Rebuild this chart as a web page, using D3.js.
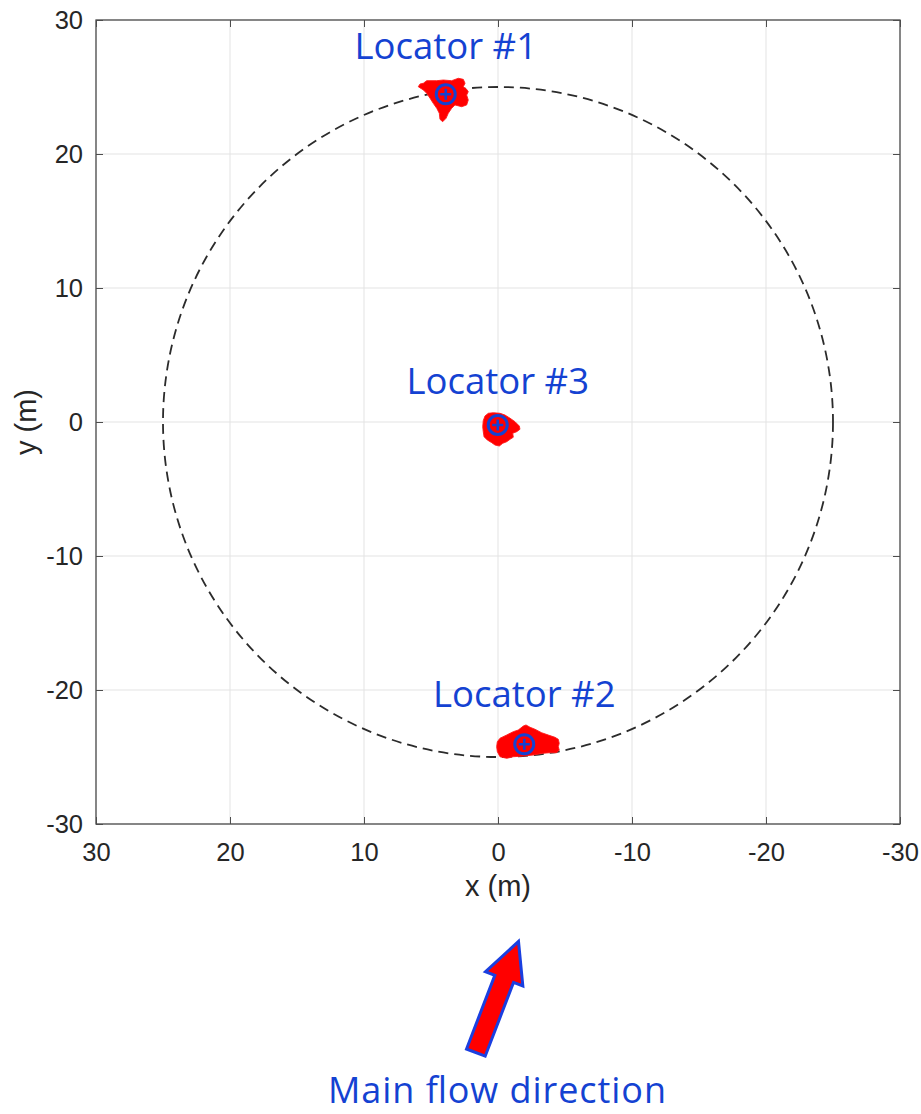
<!DOCTYPE html>
<html>
<head>
<meta charset="utf-8">
<script src="https://cdn.jsdelivr.net/npm/d3@7"></script>
<style>
  html, body { margin: 0; padding: 0; background: #fff; }
  svg { display: block; }
</style>
</head>
<body>
<svg id="chart" width="921" height="1114"></svg>
<script>
// Axis ticks (metres)
const xTicks = [30, 20, 10, 0, -10, -20, -30];
const yTicks = [30, 20, 10, 0, -10, -20, -30];

// Nominal deployment circle radius (m)
const circleRadius = 25;

// Estimated locator positions (m)
const locatorNames = ["Locator #1", "Locator #2", "Locator #3"];
const locatorX = [3.90, -1.96, 0.02];
const locatorY = [24.46, -24.05, -0.22];

// Outline of each position-estimate cloud (x, y in m)
const cloud1 = [
  [5.57, 25.28], [5.32, 25.47], [4.57, 25.47], [4.08, 25.52], [3.46, 25.47],
  [2.96, 25.65], [2.59, 25.57], [2.46, 25.28], [2.59, 25.02], [2.34, 24.83],
  [2.22, 24.65], [2.34, 24.40], [2.22, 24.03], [2.34, 23.66], [2.71, 23.53],
  [3.21, 23.66], [3.46, 23.41], [3.71, 23.04], [3.88, 22.66], [4.13, 22.41],
  [4.33, 22.59], [4.38, 23.04], [4.57, 23.41], [4.83, 23.78], [5.07, 24.16],
  [5.32, 24.53], [5.57, 24.78], [5.95, 25.02], [5.82, 25.22]
];
const cloud2 = [
  [0.05, -23.86], [-0.15, -23.60], [-0.65, -23.36], [-1.14, -23.11], [-1.51, -22.99],
  [-1.89, -22.69], [-2.09, -22.61], [-2.39, -22.78], [-2.76, -22.93], [-3.26, -23.19],
  [-3.75, -23.36], [-4.25, -23.53], [-4.50, -23.68], [-4.57, -23.98], [-4.50, -24.23],
  [-4.57, -24.48], [-4.38, -24.68], [-3.88, -24.68], [-3.38, -24.72], [-2.63, -24.85],
  [-1.89, -24.93], [-1.14, -24.98], [-0.65, -25.10], [-0.15, -24.98], [0.05, -24.60],
  [0.10, -24.23]
];
const cloud3 = [
  [0.97, 0.45], [0.72, 0.65], [0.35, 0.69], [-0.15, 0.65], [-0.52, 0.52],
  [-0.90, 0.28], [-1.27, 0.02], [-1.59, -0.30], [-1.64, -0.54], [-1.40, -0.72],
  [-1.10, -0.84], [-1.14, -1.14], [-0.90, -1.29], [-0.65, -1.47], [-0.35, -1.59],
  [-0.10, -1.79], [0.22, -1.72], [0.47, -1.54], [0.80, -1.34], [1.04, -1.10],
  [1.10, -0.72], [1.14, -0.35], [1.10, 0.10]
];
const clouds = [cloud1, cloud2, cloud3];

const svg = d3.select("#chart");
const plotLeft = 96, plotRight = 900, plotTop = 20, plotBottom = 824;

const x = d3.scaleLinear().domain([30, -30]).range([plotLeft, plotRight]);
const y = d3.scaleLinear().domain([30, -30]).range([plotTop, plotBottom]);

const axisColor = "#4d4d4d";
const textColor = "#262626";
const blue = "#1442d2";
const fontAxis = "'Liberation Sans', Arial, sans-serif";
const fontNote = "'Open Sans', 'Noto Sans', sans-serif";
const plainNumber = d => String(d);   // hyphen-minus, as in the printed labels

// Grid
const grid = svg.append("g");
grid.selectAll("line.gx").data(xTicks).join("line")
  .attr("x1", d => x(d)).attr("x2", d => x(d))
  .attr("y1", plotTop).attr("y2", plotBottom)
  .attr("stroke", "#e3e3e3").attr("stroke-width", 1);
grid.selectAll("line.gy").data(yTicks).join("line")
  .attr("y1", d => y(d)).attr("y2", d => y(d))
  .attr("x1", plotLeft).attr("x2", plotRight)
  .attr("stroke", "#e3e3e3").attr("stroke-width", 1);

// Axes with inward ticks on all four sides
function styleAxis(g) {
  g.select(".domain").remove();
  g.selectAll(".tick line").attr("stroke", axisColor);
  g.selectAll(".tick text").attr("fill", textColor)
    .style("font-family", fontAxis).style("font-size", "25.5px");
}
svg.append("g").attr("transform", `translate(0,${plotBottom})`)
  .call(d3.axisBottom(x).tickValues(xTicks).tickFormat(plainNumber)
    .tickSizeInner(-7).tickSizeOuter(0).tickPadding(19))
  .call(styleAxis);
svg.append("g").attr("transform", `translate(0,${plotTop})`)
  .call(d3.axisTop(x).tickValues(xTicks).tickFormat("")
    .tickSizeInner(-7).tickSizeOuter(0))
  .call(styleAxis);
svg.append("g").attr("transform", `translate(${plotLeft},0)`)
  .call(d3.axisLeft(y).tickValues(yTicks).tickFormat(plainNumber)
    .tickSizeInner(-7).tickSizeOuter(0).tickPadding(13))
  .call(styleAxis);
svg.append("g").attr("transform", `translate(${plotRight},0)`)
  .call(d3.axisRight(y).tickValues(yTicks).tickFormat("")
    .tickSizeInner(-7).tickSizeOuter(0))
  .call(styleAxis);

// Box
svg.append("rect")
  .attr("x", plotLeft).attr("y", plotTop)
  .attr("width", plotRight - plotLeft).attr("height", plotBottom - plotTop)
  .attr("fill", "none").attr("stroke", axisColor).attr("stroke-width", 1.3);

// Axis labels
svg.append("text")
  .attr("x", x(0)).attr("y", 896)
  .attr("text-anchor", "middle")
  .attr("fill", textColor)
  .style("font-family", fontAxis).style("font-size", "29px")
  .text("x (m)");
svg.append("text")
  .attr("transform", `translate(36,${y(0)}) rotate(-90)`)
  .attr("text-anchor", "middle")
  .attr("fill", textColor)
  .style("font-family", fontAxis).style("font-size", "29px")
  .text("y (m)");

// Nominal circle
svg.append("ellipse")
  .attr("cx", x(0)).attr("cy", y(0))
  .attr("rx", Math.abs(x(circleRadius) - x(0)))
  .attr("ry", Math.abs(y(circleRadius) - y(0)))
  .attr("fill", "none")
  .attr("stroke", "#2b2b2b").attr("stroke-width", 1.8)
  .attr("stroke-dasharray", "10,6");

// Position-estimate clouds
const outline = d3.line().x(d => x(d[0])).y(d => y(d[1])).curve(d3.curveLinearClosed);
svg.append("g").selectAll("path").data(clouds).join("path")
  .attr("d", outline)
  .attr("fill", "#ff0000")
  .attr("stroke", "#ff1a1a").attr("stroke-width", 0.9)
  .attr("stroke-linejoin", "miter");

// Locator markers (circle with plus)
const markers = svg.append("g").selectAll("g").data(locatorNames).join("g")
  .attr("transform", (d, i) => `translate(${x(locatorX[i])},${y(locatorY[i])})`);
markers.append("circle").attr("r", 9.5)
  .attr("fill", "none").attr("stroke", blue).attr("stroke-width", 3);
markers.append("path").attr("d", "M-5.5,0H5.5M0,-5.5V5.5")
  .attr("stroke", blue).attr("stroke-width", 2.6);

// Locator labels
const labelOffsetY = [-35, -37, -31];
svg.append("g").selectAll("text").data(locatorNames).join("text")
  .attr("x", (d, i) => x(locatorX[i]))
  .attr("y", (d, i) => y(locatorY[i]) + labelOffsetY[i])
  .attr("text-anchor", "middle")
  .attr("fill", blue)
  .style("font-family", fontNote)
  .style("font-size", "36.5px")
  .text(d => d);

// Flow direction arrow
const tip = [518.5, 941.5];
const arrowLen = 119, shaftW = 20, headW = 40, headL = 40;
const arrowPts = [
  [0, 0], [headW / 2, headL], [shaftW / 2, headL], [shaftW / 2, arrowLen],
  [-shaftW / 2, arrowLen], [-shaftW / 2, headL], [-headW / 2, headL]
];
svg.append("path")
  .attr("d", "M" + arrowPts.map(p => p.join(",")).join("L") + "Z")
  .attr("transform", `translate(${tip[0]},${tip[1]}) rotate(21)`)
  .attr("fill", "#ff0000")
  .attr("stroke", "#1a3fe0").attr("stroke-width", 3)
  .attr("stroke-linejoin", "miter");

svg.append("text")
  .attr("x", 497).attr("y", 1103)
  .attr("text-anchor", "middle")
  .attr("fill", blue)
  .attr("textLength", 338)
  .attr("lengthAdjust", "spacing")
  .style("font-family", fontNote)
  .style("font-size", "36px")
  .text("Main flow direction");
</script>
</body>
</html>
